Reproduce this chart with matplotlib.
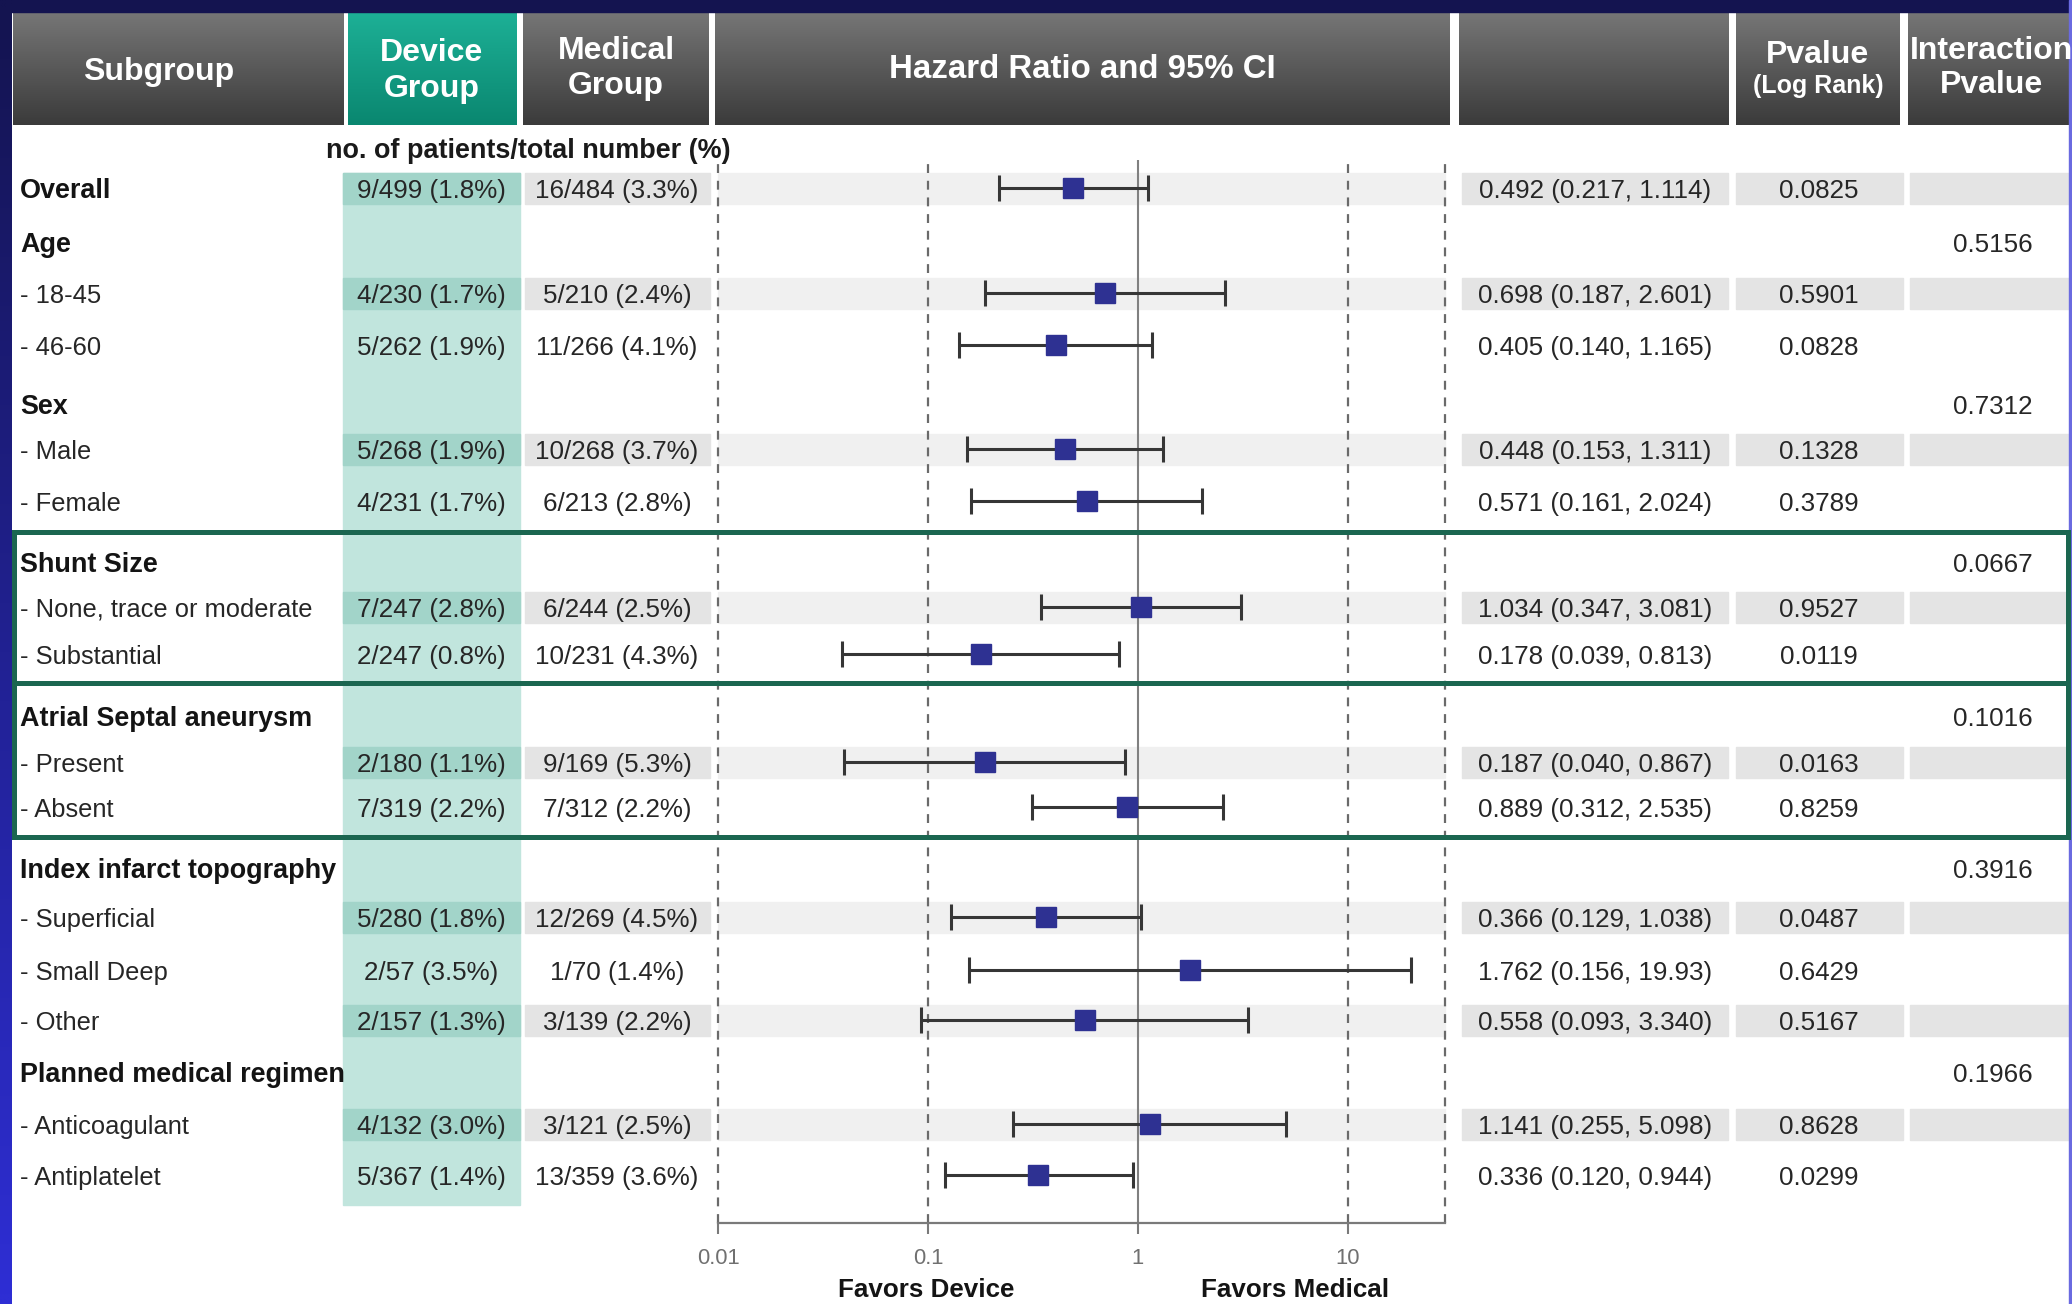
import matplotlib.pyplot as plt
import matplotlib.colors as mcolors
import numpy as np
from matplotlib.patches import Rectangle

plt.rcParams['font.family'] = ['Liberation Sans', 'DejaVu Sans']

nan = np.nan

# subgroup table, top to bottom
subgroups = ['Overall', 'Age', '- 18-45', '- 46-60', 'Sex', '- Male', '- Female',
             'Shunt Size', '- None, trace or moderate', '- Substantial',
             'Atrial Septal aneurysm', '- Present', '- Absent',
             'Index infarct topography', '- Superficial', '- Small Deep', '- Other',
             'Planned medical regimen', '- Anticoagulant', '- Antiplatelet']
device_group = ['9/499 (1.8%)', '', '4/230 (1.7%)', '5/262 (1.9%)', '', '5/268 (1.9%)',
                '4/231 (1.7%)', '', '7/247 (2.8%)', '2/247 (0.8%)', '', '2/180 (1.1%)',
                '7/319 (2.2%)', '', '5/280 (1.8%)', '2/57 (3.5%)', '2/157 (1.3%)', '',
                '4/132 (3.0%)', '5/367 (1.4%)']
medical_group = ['16/484 (3.3%)', '', '5/210 (2.4%)', '11/266 (4.1%)', '', '10/268 (3.7%)',
                 '6/213 (2.8%)', '', '6/244 (2.5%)', '10/231 (4.3%)', '', '9/169 (5.3%)',
                 '7/312 (2.2%)', '', '12/269 (4.5%)', '1/70 (1.4%)', '3/139 (2.2%)', '',
                 '3/121 (2.5%)', '13/359 (3.6%)']
hazard_ratio = [0.492, nan, 0.698, 0.405, nan, 0.448, 0.571, nan, 1.034, 0.178,
                nan, 0.187, 0.889, nan, 0.366, 1.762, 0.558, nan, 1.141, 0.336]
ci_low = [0.217, nan, 0.187, 0.140, nan, 0.153, 0.161, nan, 0.347, 0.039,
          nan, 0.040, 0.312, nan, 0.129, 0.156, 0.093, nan, 0.255, 0.120]
ci_high = [1.114, nan, 2.601, 1.165, nan, 1.311, 2.024, nan, 3.081, 0.813,
           nan, 0.867, 2.535, nan, 1.038, 19.93, 3.340, nan, 5.098, 0.944]
pvalue_logrank = ['0.0825', '', '0.5901', '0.0828', '', '0.1328', '0.3789', '', '0.9527',
                  '0.0119', '', '0.0163', '0.8259', '', '0.0487', '0.6429', '0.5167', '',
                  '0.8628', '0.0299']
pvalue_interaction = ['', '0.5156', '', '', '0.7312', '', '', '0.0667', '', '', '0.1016',
                      '', '', '0.3916', '', '', '', '0.1966', '', '']
hr_ticks = [0.01, 0.1, 1, 10]

# layout (pixels, y measured from the top)
W, H = 2072, 1304
row_y = [188, 242, 293, 345, 404, 449, 501, 562, 607, 654, 716, 762, 807,
         868, 917, 970, 1020, 1072, 1124, 1175]
shaded = {0, 2, 5, 8, 11, 14, 16, 18}
head_top, head_bot = 12, 125
head_cols = [(13, 344), (348, 517), (523, 709), (715, 1450), (1459, 1729), (1736, 1900), (1908, 2072)]
band_cols = [(525, 710), (1462, 1728), (1736, 1903), (1910, 2072)]
dev_x0, dev_x1 = 343, 520
plot_x0, plot_x1, plot_top, plot_axis = 718, 1445, 160, 1223
band_h = 31
dy = 3  # text sits slightly below the row centre

GREY_TOP, GREY_BOT = '#767676', '#3b3b3b'
TEAL_TOP, TEAL_BOT = '#1db096', '#0a8770'
BOX_GREEN = '#1b6650'
TXT = '#262626'


def pt(px):
    return px * 0.72


def gradient_box(ax, x0, x1, y0, y1, top, bottom, z=1):
    c = np.linspace(0, 1, 64)[:, None, None]
    img = np.array(mcolors.to_rgb(top)) * (1 - c) + np.array(mcolors.to_rgb(bottom)) * c
    ax.imshow(img, extent=(x0, x1, y1, y0), aspect='auto', origin='upper',
              interpolation='bilinear', zorder=z)


def ci_text(h, lo, hi):
    f = lambda v: f'{v:.2f}' if v >= 10 else f'{v:.3f}'
    return f'{f(h)} ({f(lo)}, {f(hi)})'


fig = plt.figure(figsize=(W / 100, H / 100), dpi=100)
fig.patch.set_facecolor('white')

bg = fig.add_axes([0, 0, 1, 1], zorder=0)
bg.axis('off')

# outer frame
bg.add_patch(Rectangle((0, 0), W, head_top, color='#141450', zorder=2))
gradient_box(bg, 0, 12, 0, H, '#141450', '#2e2ed4', z=2)
bg.add_patch(Rectangle((W - 3, 0), 3, H, color='#6a6ae0', zorder=2))

# header cells
for i, (x0, x1) in enumerate(head_cols):
    if i == 1:
        gradient_box(bg, x0, x1, head_top, head_bot, TEAL_TOP, TEAL_BOT)
    else:
        gradient_box(bg, x0, x1, head_top, head_bot, GREY_TOP, GREY_BOT)

hk = dict(color='white', fontweight='bold', ha='center', va='center', zorder=3)
bg.text(159, 72, 'Subgroup', fontsize=pt(32), **hk)
bg.text(432, 53, 'Device', fontsize=pt(32), **hk)
bg.text(432, 89, 'Group', fontsize=pt(32), **hk)
bg.text(616, 51, 'Medical', fontsize=pt(32), **hk)
bg.text(616, 86, 'Group', fontsize=pt(32), **hk)
bg.text(1082, 69, 'Hazard Ratio and 95% CI', fontsize=pt(33), **hk)
bg.text(1818, 55, 'Pvalue', fontsize=pt(32), **hk)
bg.text(1818, 86, '(Log Rank)', fontsize=pt(25), **hk)
bg.text(1991, 51, 'Interaction', fontsize=pt(32), **hk)
bg.text(1991, 85, 'Pvalue', fontsize=pt(32), **hk)

bg.text(528, 151, 'no. of patients/total number (%)', fontsize=pt(27), fontweight='bold',
        color='#1a1a1a', ha='center', va='center', zorder=3)

# device column tint and row bands
bg.add_patch(Rectangle((dev_x0, row_y[0] - band_h / 2), dev_x1 - dev_x0,
                       row_y[-1] + band_h / 2 + 14 - (row_y[0] - band_h / 2),
                       color='#c1e5dd', zorder=1))
for i, y in enumerate(row_y):
    if i not in shaded:
        continue
    y0 = y - band_h / 2
    bg.add_patch(Rectangle((dev_x0, y0), dev_x1 - dev_x0, band_h, color='#a2d4c9', zorder=1.5))
    bg.add_patch(Rectangle((plot_x0, y0), plot_x1 - plot_x0, band_h, color='#f0f0f0', zorder=1.5))
    for x0, x1 in band_cols:
        bg.add_patch(Rectangle((x0, y0), x1 - x0, band_h, color='#e4e4e4', zorder=1.5))

# table text
for i, y in enumerate(row_y):
    name = subgroups[i]
    ty = y + dy
    if name.startswith('-'):
        bg.text(20, ty, name, fontsize=pt(25.5), color=TXT, ha='left', va='center', zorder=3)
    else:
        bg.text(20, ty, name, fontsize=pt(27), fontweight='bold', color='#141414',
                ha='left', va='center', zorder=3)
    dk = dict(fontsize=pt(26), color=TXT, ha='center', va='center', zorder=3)
    if device_group[i]:
        bg.text(431, ty, device_group[i], **dk)
    if medical_group[i]:
        bg.text(617, ty, medical_group[i], **dk)
    if not np.isnan(hazard_ratio[i]):
        bg.text(1595, ty, ci_text(hazard_ratio[i], ci_low[i], ci_high[i]), **dk)
    if pvalue_logrank[i]:
        bg.text(1819, ty, pvalue_logrank[i], **dk)
    if pvalue_interaction[i]:
        bg.text(1993, ty, pvalue_interaction[i], **dk)

bg.text(926, 1290, 'Favors Device', fontsize=pt(26), fontweight='bold', color='#141414',
        ha='center', va='center', zorder=3)
bg.text(1295, 1290, 'Favors Medical', fontsize=pt(26), fontweight='bold', color='#141414',
        ha='center', va='center', zorder=3)

bg.set_xlim(0, W)
bg.set_ylim(H, 0)

# forest plot on a log axis
ax = fig.add_axes([plot_x0 / W, (H - plot_axis) / H, (plot_x1 - plot_x0) / W,
                   (plot_axis - plot_top) / H], zorder=1)
ax.patch.set_visible(False)
ax.set_xscale('log')
ax.set_xlim(0.01, 29)
ax.set_ylim(plot_axis, plot_top)

for xv in [0.01, 0.1, 10, 29]:
    ax.axvline(xv, color='#6a6a6a', lw=1.6, ls=(0, (4, 3.5)), clip_on=False, zorder=1)
ax.axvline(1, color='#808080', lw=1.5, zorder=1)

hr = np.array(hazard_ratio)
lo = np.array(ci_low)
hi = np.array(ci_high)
ys = np.array(row_y, dtype=float)
ok = ~np.isnan(hr)
ax.errorbar(hr[ok], ys[ok], xerr=[hr[ok] - lo[ok], hi[ok] - hr[ok]], fmt='none',
            ecolor='#363636', elinewidth=2.2, capsize=9.5, capthick=2.2, zorder=2)
ax.plot(hr[ok], ys[ok], 's', color='#2e3192', markersize=14, zorder=3)

for side in ['top', 'left', 'right']:
    ax.spines[side].set_visible(False)
ax.spines['bottom'].set_color('#7a7a7a')
ax.spines['bottom'].set_linewidth(1.6)
ax.set_yticks([])
ax.set_xticks(hr_ticks)
ax.set_xticklabels(['0.01', '0.1', '1', '10'])
ax.minorticks_off()
ax.tick_params(axis='x', length=8, width=1.5, color='#7a7a7a', labelcolor='#707070',
               labelsize=pt(22), pad=10)

# outlined subgroup blocks drawn over everything
top = fig.add_axes([0, 0, 1, 1], zorder=2)
top.axis('off')
top.set_xlim(0, W)
top.set_ylim(H, 0)
for y0, y1 in [(532, 683), (683, 837)]:
    top.add_patch(Rectangle((14, y0), W - 18, y1 - y0, fill=False, edgecolor=BOX_GREEN,
                            lw=pt(5)))

fig.savefig('out.png', dpi=100, facecolor='white')
